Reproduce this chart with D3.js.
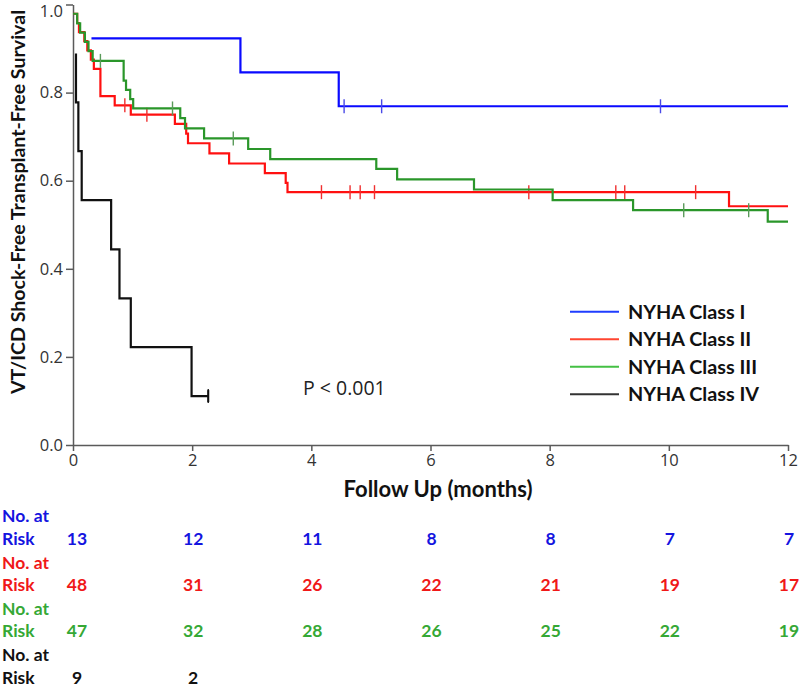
<!DOCTYPE html>
<html>
<head>
<meta charset="utf-8">
<script src="https://cdn.jsdelivr.net/npm/d3@7"></script>
<style>
  html, body { margin: 0; padding: 0; background: #fff; }
  svg { display: block; }
</style>
</head>
<body>
<svg id="chart" width="800" height="687"></svg>
<script>
// ---------------- DATA ----------------
const seriesNames = ["NYHA Class I", "NYHA Class II", "NYHA Class III", "NYHA Class IV"];

// Kaplan-Meier step points [months, survival]
const classISteps = [[0.31, 0.923], [2.81, 0.846], [4.46, 0.769], [12, 0.769]];
const classICensor = [4.55, 5.18, 9.86];

const classIISteps = [[0, 0.979], [0.07, 0.958], [0.10, 0.9375], [0.19, 0.917], [0.24, 0.896],
  [0.30, 0.875], [0.35, 0.854], [0.46, 0.792], [0.70, 0.771], [0.97, 0.750], [1.71, 0.729],
  [1.90, 0.707], [1.93, 0.685], [2.29, 0.662], [2.62, 0.639], [3.22, 0.617], [3.57, 0.595],
  [3.60, 0.574], [11.01, 0.542], [12, 0.542]];
const classIICensor = [0.87, 1.24, 4.17, 4.65, 4.82, 5.06, 7.65, 9.11, 9.26, 10.45];

const classIIISteps = [[0, 0.979], [0.07, 0.957], [0.12, 0.936], [0.20, 0.915], [0.26, 0.894],
  [0.33, 0.872], [0.85, 0.827], [0.89, 0.806], [0.96, 0.785], [1.01, 0.764], [1.80, 0.742],
  [1.88, 0.719], [2.20, 0.696], [2.94, 0.672], [3.31, 0.649], [5.09, 0.627], [5.44, 0.603],
  [6.73, 0.580], [8.05, 0.556], [9.40, 0.533], [11.66, 0.507], [12, 0.507]];
const classIIICensor = [0.46, 1.67, 2.69, 10.25, 11.34];

const classIVSteps = [[0.05, 0.889], [0.05, 0.778], [0.09, 0.667], [0.146, 0.556], [0.64, 0.444],
  [0.78, 0.333], [0.97, 0.222], [1.99, 0.111], [2.27, 0.111]];
const classIVCensor = [2.27];

const xTicks = [0, 2, 4, 6, 8, 10, 12];
const yTicks = [0.0, 0.2, 0.4, 0.6, 0.8, 1.0];

const riskTimes = [0, 2, 4, 6, 8, 10, 12];
const riskClassI = [13, 12, 11, 8, 8, 7, 7];
const riskClassII = [48, 31, 26, 22, 21, 19, 17];
const riskClassIII = [47, 32, 28, 26, 25, 22, 19];
const riskClassIV = [9, 2];

const pValueText = "P < 0.001";
const xTitle = "Follow Up (months)";
const yTitle = "VT/ICD Shock-Free Transplant-Free Survival";

// ---------------- STYLE ----------------
const lineColors = ["#0a0aff", "#ff1010", "#2a962a", "#111111"];
const censorColors = ["#4a4ae8", "#f03030", "#5a9a5a", "#222222"];
const legendColors = ["#1f3dff", "#ff4530", "#44c044", "#333333"];
const riskColors = ["#1414e0", "#f01818", "#35a835", "#111111"];

const series = [
  { steps: classIISteps, censor: classIICensor, idx: 1 },
  { steps: classIIISteps, censor: classIIICensor, idx: 2 },
  { steps: classISteps, censor: classICensor, idx: 0 },
  { steps: classIVSteps, censor: classIVCensor, idx: 3 }
];

const svg = d3.select("#chart");
const x = d3.scaleLinear().domain([0, 12]).range([73, 788]);
const y = d3.scaleLinear().domain([0, 1]).range([445, 4.5]);

const axisColor = "#5a5a5a";
const tickFont = "'Open Sans', 'DejaVu Sans', sans-serif";
const boldFont = "Lato, 'Open Sans', sans-serif";

// Axes
const yAxis = d3.axisLeft(y).tickValues(yTicks).tickFormat(d3.format(".1f")).tickSize(7).tickSizeOuter(0).tickPadding(3);
const gy = svg.append("g").attr("transform", `translate(${x(0)},0)`).call(yAxis);
const xAxis = d3.axisBottom(x).tickValues(xTicks).tickFormat(d3.format("d")).tickSize(6).tickSizeOuter(0).tickPadding(3);
const gx = svg.append("g").attr("transform", `translate(0,${y(0)})`).call(xAxis);

[gx, gy].forEach(g => {
  g.select(".domain").attr("stroke", axisColor).attr("stroke-width", 1.5);
  g.selectAll(".tick line").attr("stroke", axisColor).attr("stroke-width", 1.5);
  g.selectAll(".tick text").attr("fill", "#333").style("font-family", tickFont).style("font-size", "16.5px");
});
// keep the top label inside the picture
gy.selectAll(".tick text").filter(d => d === 1).attr("dy", "0.72em");

// Curves
const line = d3.line().x(d => x(d[0])).y(d => y(d[1])).curve(d3.curveStepAfter);
function survAt(steps, t) {
  let v = steps[0][1];
  for (const s of steps) { if (s[0] <= t) v = s[1]; }
  return v;
}
series.forEach(s => {
  svg.append("path")
    .attr("d", line(s.steps))
    .attr("fill", "none")
    .attr("stroke", lineColors[s.idx])
    .attr("stroke-width", 2.2);
  svg.selectAll(null).data(s.censor).enter().append("line")
    .attr("x1", d => x(d)).attr("x2", d => x(d))
    .attr("y1", d => y(survAt(s.steps, d)) - 7)
    .attr("y2", d => y(survAt(s.steps, d)) + 7)
    .attr("stroke", censorColors[s.idx])
    .attr("stroke-width", 1.4);
});
svg.selectAll(null).data(classIVCensor).enter().append("line")
  .attr("x1", d => x(d)).attr("x2", d => x(d))
  .attr("y1", d => y(survAt(classIVSteps, d)) - 6)
  .attr("y2", d => y(survAt(classIVSteps, d)) + 6)
  .attr("stroke", lineColors[3]).attr("stroke-width", 2);

// Axis titles
svg.append("text")
  .attr("x", 438).attr("y", 497)
  .attr("text-anchor", "middle")
  .style("font-family", boldFont).style("font-weight", "bold").style("font-size", "22px")
  .attr("fill", "#111")
  .text(xTitle);

svg.append("text")
  .attr("transform", `translate(25,202) rotate(-90)`)
  .attr("text-anchor", "middle")
  .style("font-family", boldFont).style("font-weight", "bold").style("font-size", "19.6px")
  .attr("fill", "#111")
  .text(yTitle);

// P value
svg.append("text")
  .attr("x", 303).attr("y", 395)
  .style("font-family", tickFont).style("font-size", "19.5px")
  .attr("fill", "#222")
  .text(pValueText);

// Legend
const legend = svg.append("g");
seriesNames.forEach((name, i) => {
  const ly = 311.7 + i * 27.5;
  legend.append("line")
    .attr("x1", 570).attr("x2", 619).attr("y1", ly).attr("y2", ly)
    .attr("stroke", legendColors[i]).attr("stroke-width", 2);
  legend.append("text")
    .attr("x", 628).attr("y", ly + 7)
    .style("font-family", boldFont).style("font-weight", "bold").style("font-size", "19.8px")
    .attr("fill", "#111")
    .text(name);
});

// Risk table
const riskRows = [riskClassI, riskClassII, riskClassIII, riskClassIV];
riskRows.forEach((row, i) => {
  const base = 516 + i * 46.3;
  const g = svg.append("g")
    .style("font-family", boldFont).style("font-weight", "bold").style("font-size", "17.5px")
    .attr("fill", riskColors[i]);
  const riskY = base + 22.5 + 6.3;
  g.append("text").attr("x", 2).attr("y", base + 6.3).text("No. at");
  g.append("text").attr("x", 2).attr("y", riskY).text("Risk");
  g.selectAll(null).data(row).enter().append("text")
    .attr("x", (d, j) => x(riskTimes[j]) + (j === 0 ? 4 : 1))
    .attr("y", riskY)
    .attr("text-anchor", "middle")
    .text(d => d);
});
</script>
</body>
</html>
